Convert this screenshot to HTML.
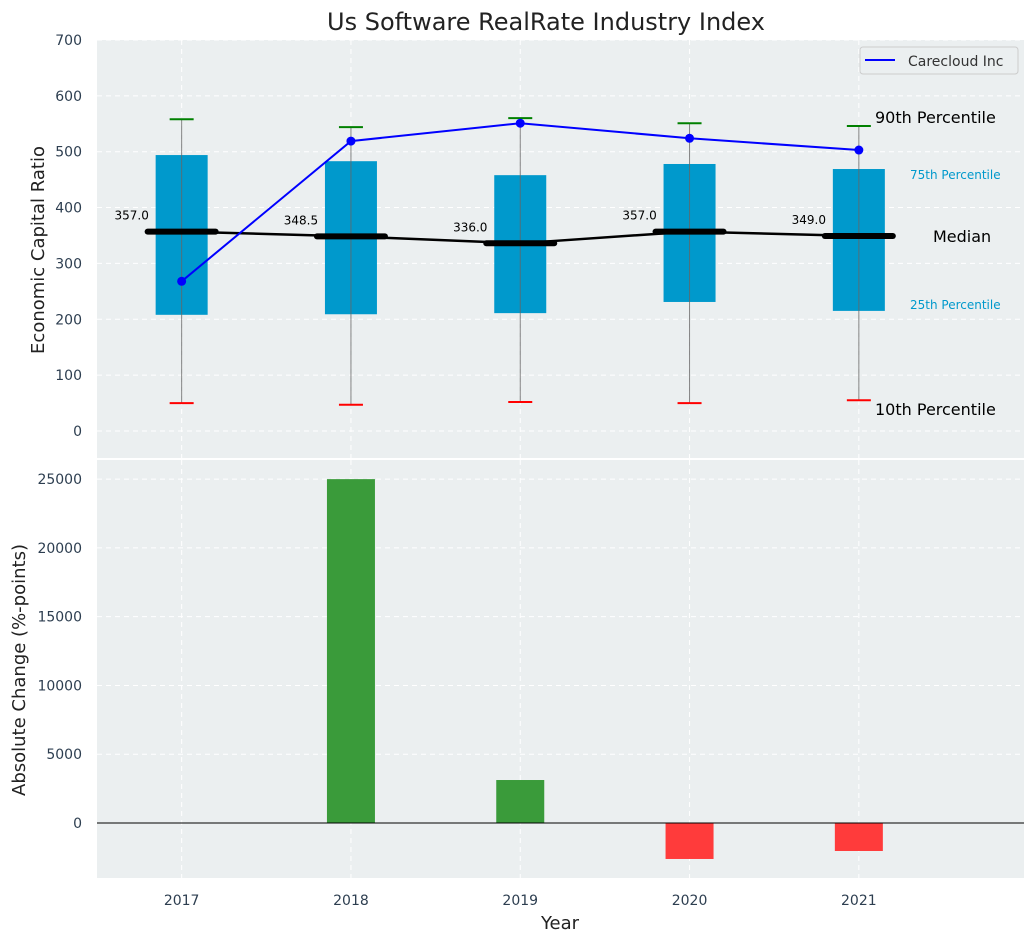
<!DOCTYPE html>
<html><head><meta charset="utf-8"><style>
body{margin:0;background:#fff;font-family:"Liberation Sans","DejaVu Sans",sans-serif}
</style></head><body>
<svg id="c" width="1035" height="942" xmlns="http://www.w3.org/2000/svg" font-family="DejaVu Sans, Liberation Sans, sans-serif"></svg>
<script>
const years=[2017,2018,2019,2020,2021];
const p10=[50,47,52,50,55];
const q1=[208,209,211,231,215];
const med=[357.0,348.5,336.0,357.0,349.0];
const q3=[494,483,458,478,469];
const p90=[558,544,560,551,546];
const carecloud=[268,519,551,524,503];
const changes=[0,25000,3125,-2616,-2035];
const topTicks=[0,100,200,300,400,500,600,700];
const botTicks=[0,5000,10000,15000,20000,25000];

const NS="http://www.w3.org/2000/svg";
const svg=document.getElementById('c');
function el(t,a,p){const e=document.createElementNS(NS,t);for(const k in a)e.setAttribute(k,a[k]);(p||svg).appendChild(e);return e;}
function tx(x,y,s,a){const e=el('text',Object.assign({x:x,y:y},a));e.textContent=s;return e;}
const L=97,R=1024;
const X=v=>L+(v-2016.5)*169.3;
const T0=40,T1=458,Y1=v=>431-v*0.5586;
const B0=460,B1=878,Y2=v=>823-v*0.013755;

// backgrounds
let e;
e=el('rect',{x:L,y:T0,width:R-L,height:T1-T0,fill:'#ebeff0'});

e=el('rect',{x:L,y:B0,width:R-L,height:B1-B0,fill:'#ebeff0'});


// grid
topTicks.forEach(t=>{el('line',{x1:L,x2:R,y1:Y1(t),y2:Y1(t),stroke:'#fff','stroke-dasharray':'5,4'});
 e=tx(82,Y1(t)+5,t,{'text-anchor':'end','font-size':14,fill:'#2d3e50'});
 });
botTicks.forEach(t=>{el('line',{x1:L,x2:R,y1:Y2(t),y2:Y2(t),stroke:'#fff','stroke-dasharray':'5,4'});
 e=tx(82,Y2(t)+5,t,{'text-anchor':'end','font-size':14,fill:'#2d3e50'});
 });
years.forEach(y=>{[[T0,T1],[B0,B1]].forEach(r=>el('line',{x1:X(y),x2:X(y),y1:r[0],y2:r[1],stroke:'#fff','stroke-dasharray':'5,4'}));
 e=tx(X(y),905,y,{'text-anchor':'middle','font-size':14,fill:'#2d3e50'});
 });

// boxes
years.forEach((y,i)=>{const x=X(y);
 e=el('rect',{x:x-26,y:Y1(q3[i]),width:52,height:Y1(q1[i])-Y1(q3[i]),fill:'#0099cc'});
 
 el('line',{x1:x,x2:x,y1:Y1(p90[i]),y2:Y1(p10[i]),stroke:'#666','stroke-width':1,opacity:0.8});
 e=el('line',{x1:x-12,x2:x+12,y1:Y1(p90[i]),y2:Y1(p90[i]),stroke:'green','stroke-width':2});
 
 e=el('line',{x1:x-12,x2:x+12,y1:Y1(p10[i]),y2:Y1(p10[i]),stroke:'red','stroke-width':2});
 
});
// median connecting line
e=el('polyline',{points:years.map((y,i)=>X(y)+','+Y1(med[i])).join(' '),fill:'none',stroke:'#000','stroke-width':2.5});

years.forEach((y,i)=>{const x=X(y);
 e=el('line',{x1:x-34,x2:x+34,y1:Y1(med[i]),y2:Y1(med[i]),stroke:'#000','stroke-width':6,'stroke-linecap':'round'});
 
 e=tx(x-50,Y1(med[i])-12,med[i].toFixed(1),{'text-anchor':'middle','font-size':12,fill:'#000'});
 
});
// carecloud
e=el('polyline',{points:years.map((y,i)=>X(y)+','+Y1(carecloud[i])).join(' '),fill:'none',stroke:'#0000ff','stroke-width':2});

years.forEach((y,i)=>{e=el('circle',{cx:X(y),cy:Y1(carecloud[i]),r:4.5,fill:'#0000ff'});
 });

// annotations
const ann=[[875,123,'90th Percentile',16,'#000','start'],[910,179,'75th Percentile',12,'#0099cc','start'],[933,242,'Median',16,'#000','start'],[910,309,'25th Percentile',12,'#0099cc','start'],[875,415,'10th Percentile',16,'#000','start']];
ann.forEach(a=>{e=tx(a[0],a[1],a[2],{'font-size':a[3],fill:a[4]});
 });

// legend
const lg=el('g',{});
el('rect',{x:860,y:47,width:158,height:27,rx:3,fill:'#ebeff0',stroke:'#ccc'},lg);
el('line',{x1:865,x2:895,y1:60,y2:60,stroke:'#0000ff','stroke-width':2},lg);
tx(908,66,'Carecloud Inc',{'font-size':14,fill:'#333'},lg);

// bars
years.forEach((y,i)=>{const v=changes[i];if(v===0)return;
 e=el('rect',{x:X(y)-24,y:Math.min(Y2(v),Y2(0)),width:48,height:Math.abs(Y2(v)-Y2(0)),fill:v>0?'#3a9b3a':'#ff3b3b'});
 });
el('line',{x1:L,x2:R,y1:Y2(0),y2:Y2(0),stroke:'#000','stroke-width':1});

// titles
e=tx(546,30,'Us Software RealRate Industry Index',{'text-anchor':'middle','font-size':24,fill:'#222'});

e=tx(44,250,'Economic Capital Ratio',{'text-anchor':'middle','font-size':18,fill:'#222',transform:'rotate(-90 44 250)'});

e=tx(25,670,'Absolute Change (%-points)',{'text-anchor':'middle','font-size':18,fill:'#222',transform:'rotate(-90 25 670)'});

e=tx(560,929,'Year',{'text-anchor':'middle','font-size':18,fill:'#222'});

</script>
</body></html>
